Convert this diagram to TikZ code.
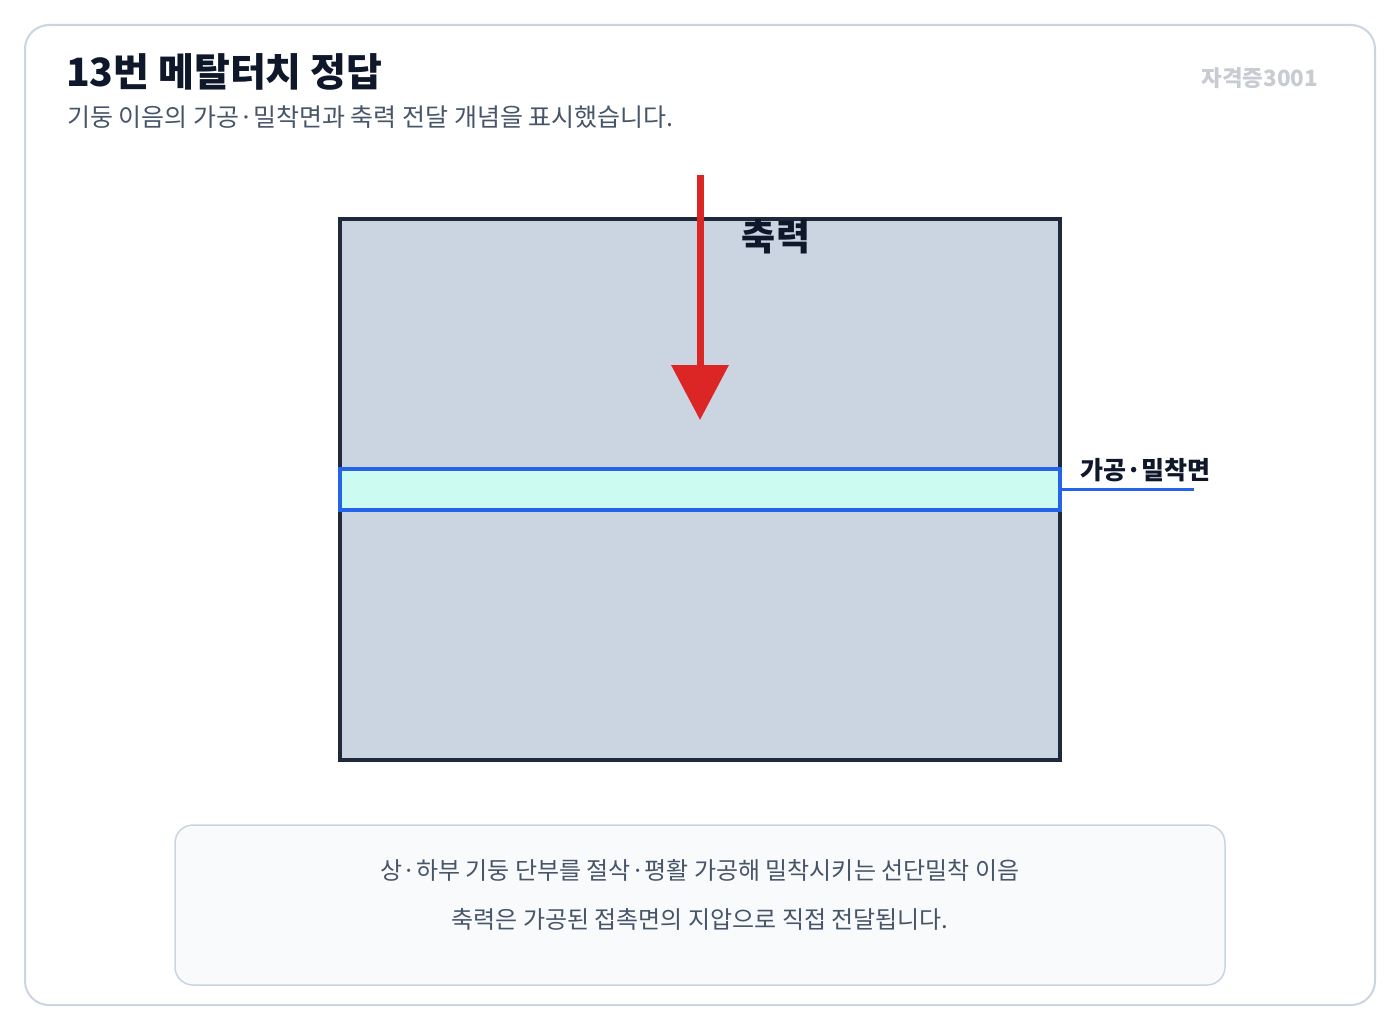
\documentclass[tikz,border=0pt]{standalone}
\usepackage{fontspec}
\setmainfont{Noto Sans CJK KR}
\usetikzlibrary{arrows.meta}
\definecolor{cardline}{HTML}{CBD5E1}
\definecolor{titlec}{HTML}{0F172A}
\definecolor{subc}{HTML}{475569}
\definecolor{markc}{HTML}{C8CCD2}
\definecolor{colfill}{HTML}{CBD5E1}
\definecolor{colline}{HTML}{1E293B}
\definecolor{jointfill}{HTML}{CCFBF1}
\definecolor{jointline}{HTML}{2563EB}
\definecolor{forcec}{HTML}{DC2626}
\definecolor{notefill}{HTML}{F8FAFC}
\tikzset{
  txt/.style={inner sep=0pt, outer sep=0pt},
  colbox/.style={draw=colline, line width=4pt, fill=colfill, minimum width=720pt, minimum height=541pt, inner sep=0pt},
  jointbox/.style={draw=jointline, line width=4pt, fill=jointfill, minimum width=720pt, minimum height=41pt, inner sep=0pt},
  force/.style={draw=forcec, line width=7pt, -{Triangle[length=55pt,width=56pt]}},
}
\begin{document}
\begin{tikzpicture}[x=1pt,y=-1pt]
\useasboundingbox (0,0) rectangle (1400,1030);
\fill[white] (0,0) rectangle (1400,1030);
\draw[cardline, line width=2pt, fill=white, rounded corners=24pt] (25,25) rectangle (1375,1005);
\node[txt, anchor=base west, font=\bfseries\fontsize{39}{42}\selectfont, text=titlec] (title) at (66,87) {13번 메탈터치 정답};
\node[txt, anchor=base west, font=\fontsize{25}{28}\selectfont, text=subc] (sub) at (67,127) {기둥 이음의 가공·밀착면과 축력 전달 개념을 표시했습니다.};
\node[txt, anchor=base east, font=\bfseries\fontsize{22.4}{26}\selectfont, text=markc] (mark) at (1318,87) {자격증3001};
\node[colbox] (col) at (700,489.5) {};
\node[jointbox] (joint) at (700,489.5) {};
\coordinate (lead) at (1194,489.5);
\draw[jointline, line width=3pt] (joint.east) -- (lead);
\node[txt, anchor=base west, font=\bfseries\fontsize{25}{28}\selectfont, text=titlec] (jlabel) at (1080,479) {가공·밀착면};
\coordinate (fstart) at (700,175);
\coordinate (fend) at (700,420);
\draw[force] (fstart) -- (fend);
\node[txt, anchor=base, font=\bfseries\fontsize{37}{40}\selectfont, text=titlec] (flabel) at (776,250) {축력};
\node[draw=cardline, line width=1.5pt, fill=notefill, rounded corners=18pt, minimum width=1050pt, minimum height=160pt, inner sep=0pt] (note) at (700,905) {};
\node[txt, anchor=base, font=\fontsize{24}{27}\selectfont, text=subc] (n1) at (700,879) {상·하부 기둥 단부를 절삭·평활 가공해 밀착시키는 선단밀착 이음};
\node[txt, anchor=base, font=\fontsize{24}{27}\selectfont, text=subc] (n2) at (700,928) {축력은 가공된 접촉면의 지압으로 직접 전달됩니다.};
\end{tikzpicture}
\end{document}
